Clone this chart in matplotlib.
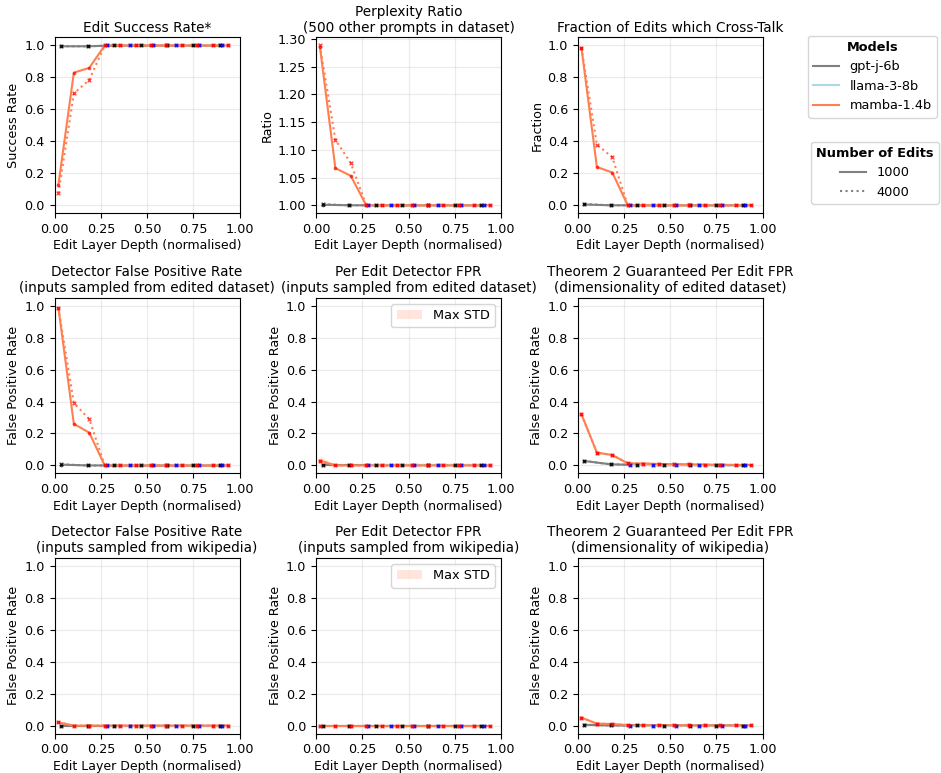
import numpy as np
import matplotlib
matplotlib.use('Agg')
import matplotlib.pyplot as plt
from matplotlib.lines import Line2D

plt.rcParams['font.size'] = 9

# normalised layer depths for each model
gptj_x = np.array([1, 5, 9, 13, 17, 21, 25]) / 28
llama_x = np.array([9, 13, 17, 21, 25, 29]) / 32
mamba_x = np.array([1, 5, 9, 13, 17, 21, 25, 29, 33, 37, 41, 45]) / 48

titles = ['Edit Success Rate*',
          'Perplexity Ratio\n(500 other prompts in dataset)',
          'Fraction of Edits which Cross-Talk',
          'Detector False Positive Rate\n(inputs sampled from edited dataset)',
          'Per Edit Detector FPR\n(inputs sampled from edited dataset)',
          'Theorem 2 Guaranteed Per Edit FPR\n(dimensionality of edited dataset)',
          'Detector False Positive Rate\n(inputs sampled from wikipedia)',
          'Per Edit Detector FPR\n(inputs sampled from wikipedia)',
          'Theorem 2 Guaranteed Per Edit FPR\n(dimensionality of wikipedia)']
ylabels = ['Success Rate', 'Ratio', 'Fraction'] + ['False Positive Rate'] * 6

z7 = [0.0] * 7
z6 = [0.0] * 6
z12 = [0.0] * 12

# one row per panel
gptj_1000 = [
    [0.995, 0.995, 1.0, 1.0, 1.0, 1.0, 1.0],
    [1.001, 1.0, 1.0, 1.0, 1.0, 1.0, 1.0],
    [0.005, 0.0, 0.0, 0.0, 0.0, 0.0, 0.0],
    [0.005, 0.0, 0.0, 0.0, 0.0, 0.0, 0.0],
    z7,
    [0.028, 0.007, 0.003, 0.002, 0.002, 0.002, 0.001],
    z7, z7,
    [0.005, 0.001, 0.001, 0.0, 0.0, 0.0, 0.0],
]
gptj_4000 = [
    [0.995, 0.995, 1.0, 1.0, 1.0, 1.0, 1.0],
    [1.002, 1.0, 1.0, 1.0, 1.0, 1.0, 1.0],
    [0.008, 0.0, 0.0, 0.0, 0.0, 0.0, 0.0],
    [0.007, 0.0, 0.0, 0.0, 0.0, 0.0, 0.0],
    z7,
    [0.028, 0.007, 0.003, 0.002, 0.002, 0.002, 0.001],
    z7, z7,
    [0.005, 0.001, 0.001, 0.0, 0.0, 0.0, 0.0],
]
llama_1000 = [[1.0] * 6, [1.0] * 6, z6, z6, z6, z6, z6, z6, z6]
llama_4000 = [[1.0] * 6, [1.0] * 6, z6, z6, z6, z6, z6, z6, z6]
mamba_1000 = [
    [0.13, 0.83, 0.86, 1.0, 1.0, 1.0, 1.0, 1.0, 1.0, 1.0, 1.0, 1.0],
    [1.285, 1.067, 1.053, 1.0, 1.0, 1.0, 1.0, 1.0, 1.0, 1.0, 1.0, 1.0],
    [0.985, 0.24, 0.205, 0.0, 0.0, 0.0, 0.0, 0.0, 0.0, 0.0, 0.0, 0.0],
    [0.985, 0.26, 0.205, 0.0, 0.0, 0.0, 0.0, 0.0, 0.0, 0.0, 0.0, 0.0],
    [0.03, 0.0, 0.0, 0.0, 0.0, 0.0, 0.0, 0.0, 0.0, 0.0, 0.0, 0.0],
    [0.32, 0.08, 0.065, 0.013, 0.012, 0.009, 0.008, 0.007, 0.005, 0.004, 0.003, 0.003],
    [0.02, 0.0, 0.0, 0.0, 0.0, 0.0, 0.0, 0.0, 0.0, 0.0, 0.0, 0.0],
    z12,
    [0.05, 0.012, 0.01, 0.003, 0.002, 0.002, 0.002, 0.001, 0.001, 0.001, 0.001, 0.001],
]
mamba_4000 = [
    [0.075, 0.70, 0.785, 1.0, 1.0, 1.0, 1.0, 1.0, 1.0, 1.0, 1.0, 1.0],
    [1.288, 1.118, 1.076, 1.0, 1.0, 1.0, 1.0, 1.0, 1.0, 1.0, 1.0, 1.0],
    [0.985, 0.38, 0.30, 0.0, 0.0, 0.0, 0.0, 0.0, 0.0, 0.0, 0.0, 0.0],
    [0.985, 0.39, 0.29, 0.0, 0.0, 0.0, 0.0, 0.0, 0.0, 0.0, 0.0, 0.0],
    [0.03, 0.0, 0.0, 0.0, 0.0, 0.0, 0.0, 0.0, 0.0, 0.0, 0.0, 0.0],
    [0.32, 0.08, 0.065, 0.013, 0.012, 0.009, 0.008, 0.007, 0.005, 0.004, 0.003, 0.003],
    [0.02, 0.0, 0.0, 0.0, 0.0, 0.0, 0.0, 0.0, 0.0, 0.0, 0.0, 0.0],
    z12,
    [0.05, 0.012, 0.01, 0.003, 0.002, 0.002, 0.002, 0.001, 0.001, 0.001, 0.001, 0.001],
]
# max std band for the per-edit panels (mamba)
mamba_std = {4: [0.03, 0.004, 0.002, 0.001, 0.0, 0.0, 0.0, 0.0, 0.0, 0.0, 0.0, 0.0],
             7: [0.004, 0.001, 0.0, 0.0, 0.0, 0.0, 0.0, 0.0, 0.0, 0.0, 0.0, 0.0]}

ppl_ticks = [1.00, 1.05, 1.10, 1.15, 1.20, 1.25, 1.30]

models = [('gpt-j-6b', gptj_x, gptj_1000, gptj_4000, 'grey', 'black'),
          ('llama-3-8b', llama_x, llama_1000, llama_4000, 'lightblue', 'blue'),
          ('mamba-1.4b', mamba_x, mamba_1000, mamba_4000, 'coral', 'red')]

fig, axes = plt.subplots(3, 3, figsize=(9.41, 7.73), dpi=100)
fig.subplots_adjust(left=0.058, right=0.8105, top=0.9515, bottom=0.051,
                    wspace=0.413, hspace=0.48)

for i, ax in enumerate(axes.flat):
    for name, x, v1, v4, lc, mc in models:
        ax.plot(x, v1[i], color=lc, lw=1.5, ls='-', zorder=2)
        ax.plot(x, v4[i], color=lc, lw=1.5, ls=':', zorder=2)
        ax.scatter(x, v1[i], color=mc, s=7, marker='o', alpha=0.7, zorder=3, lw=0)
        ax.scatter(x, v4[i], color=mc, s=7, marker='x', alpha=0.7, zorder=3, lw=1.0)
    if i in mamba_std:
        m = np.array(mamba_1000[i])
        s = np.array(mamba_std[i])
        ax.fill_between(mamba_x, m - s, m + s, color='coral', alpha=0.2,
                        lw=0, label='Max STD')
        ax.legend(loc='upper right', fontsize=9.3)
    ax.set_title(titles[i], fontsize=9.8, pad=4)
    ax.set_ylabel(ylabels[i], fontsize=9.2, labelpad=3)
    ax.set_xlabel('Edit Layer Depth (normalised)', fontsize=9, labelpad=2.5)
    ax.tick_params(labelsize=9.2)
    ax.set_xlim(0, 1)
    ax.set_xticks([0, 0.25, 0.5, 0.75, 1.0])
    if i == 1:
        ax.set_yticks(ppl_ticks)
    else:
        ax.set_ylim(-0.05, 1.05)
    ax.grid(True, alpha=0.25)

model_handles = [Line2D([0], [0], color=c, lw=1.5) for c in ['grey', 'lightblue', 'coral']]
leg1 = fig.legend(model_handles, ['gpt-j-6b', 'llama-3-8b', 'mamba-1.4b'],
                  title='Models', loc='upper left', bbox_to_anchor=(0.852, 0.962),
                  fontsize=9.3, title_fontsize=9.3)
leg1.get_title().set_fontweight('bold')
edit_handles = [Line2D([0], [0], color='grey', lw=1.5, ls='-'),
                Line2D([0], [0], color='grey', lw=1.5, ls=':')]
leg2 = fig.legend(edit_handles, ['1000', '4000'], title='Number of Edits',
                  loc='upper left', bbox_to_anchor=(0.855, 0.825),
                  fontsize=9.3, title_fontsize=9.3)
leg2.get_title().set_fontweight('bold')

fig.savefig('out.png', dpi=100)
